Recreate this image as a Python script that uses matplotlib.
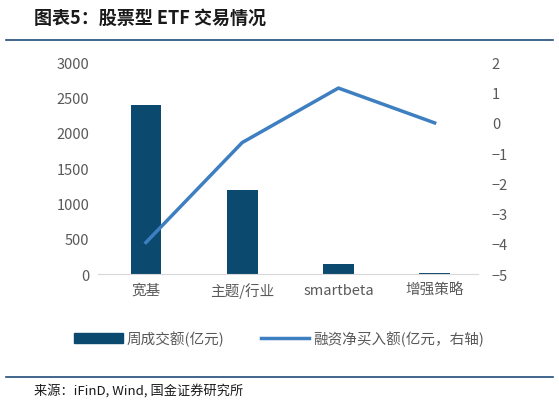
import matplotlib.pyplot as plt
from matplotlib.lines import Line2D
from matplotlib.patches import Patch

plt.rcParams['font.family'] = ['Noto Sans CJK SC', 'DejaVu Sans']

categories = ['宽基', '主题/行业', 'smartbeta', '增强策略']
turnover = [2400, 1190, 150, 20]          # 周成交额(亿元)
net_buy = [-3.95, -0.65, 1.15, 0.0]       # 融资净买入额(亿元)

bar_color = '#0b4a6e'
line_color = '#3d7fc1'
grey = '#595959'

fig = plt.figure(figsize=(5.59, 4.06), dpi=100)
ax = fig.add_axes([0.175, 0.322, 0.68, 0.522])
x = range(len(categories))
ax.bar(x, turnover, width=0.32, color=bar_color, zorder=2)
ax.set_ylim(0, 3000)
ax.set_yticks(range(0, 3001, 500))
ax.set_xlim(-0.5, 3.45)
ax.set_xticks(list(x))
ax.set_xticklabels(categories)
for s in ['top', 'right', 'left']:
    ax.spines[s].set_visible(False)
ax.spines['bottom'].set_color('#d9d9d9')
ax.tick_params(axis='both', length=0, labelsize=10.5, colors=grey, pad=6)

ax2 = ax.twinx()
ax2.plot(x, net_buy, color=line_color, lw=2.5, zorder=3)
ax2.set_ylim(-5, 2)
ax2.set_yticks(range(-5, 3))
for s in ax2.spines.values():
    s.set_visible(False)
ax2.tick_params(axis='y', length=0, labelsize=10.5, colors=grey, pad=10)

handles = [Patch(color=bar_color), Line2D([], [], color=line_color, lw=2.5)]
fig.legend(handles, ['周成交额(亿元)', '融资净买入额(亿元，右轴)'], loc='center',
           bbox_to_anchor=(0.5, 0.165), ncol=2, frameon=False, fontsize=10.5,
           labelcolor=grey, handlelength=3.3, columnspacing=2.5, handletextpad=0.3)

fig.text(0.06, 0.955, '图表5：股票型 ETF 交易情况', fontsize=13, fontweight='bold',
         style='italic', va='center', color='#1a1a1a')
fig.add_artist(Line2D([0.01, 0.99], [0.9, 0.9], color='#1f4e79', lw=1.2))
fig.add_artist(Line2D([0.01, 0.99], [0.07, 0.07], color='#1f4e79', lw=1.2))
fig.text(0.06, 0.037, '来源：iFinD, Wind, 国金证券研究所', fontsize=9.5, va='center', color='#1a1a1a')

fig.savefig('out.png', dpi=100)
